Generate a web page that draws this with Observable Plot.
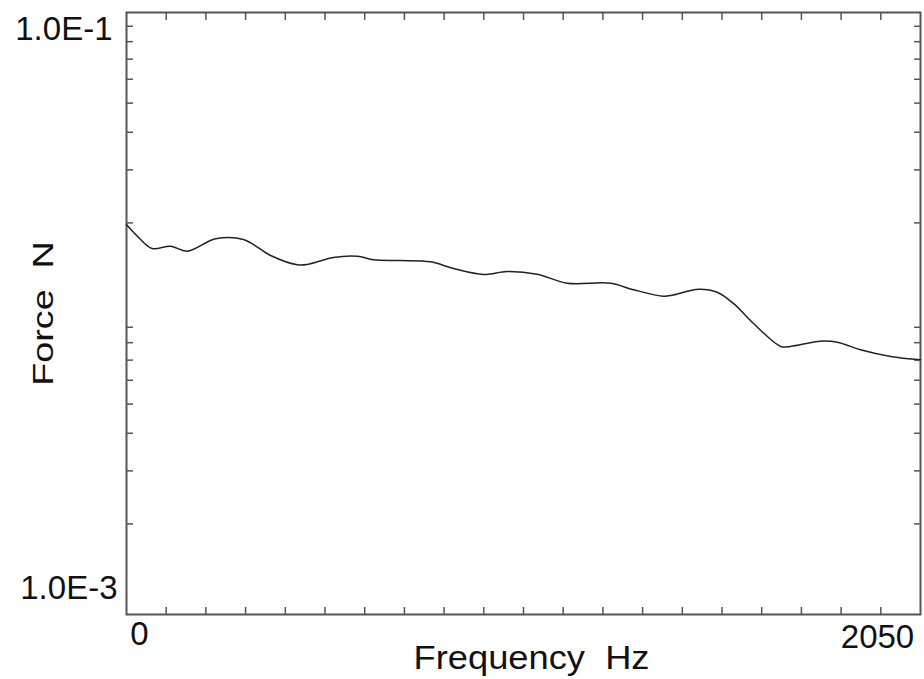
<!DOCTYPE html>
<html><head><meta charset="utf-8">
<script src="https://cdn.jsdelivr.net/npm/d3@7"></script>
<script src="https://cdn.jsdelivr.net/npm/@observablehq/plot@0.6"></script>
<style>body{margin:0;background:#fff} svg{display:block}</style>
</head><body><div id="chart"></div>
<script>
const freq = [0, 31, 66, 114, 157, 230, 302, 372, 441, 467, 534, 596, 638, 707, 785, 844, 922, 983, 1060, 1138, 1250, 1309, 1387, 1412, 1477, 1525, 1567, 1619, 1689, 1714, 1792, 1835, 1895, 1973, 2050];
const force = [0.0197, 0.0179, 0.01644, 0.01673, 0.01610, 0.01771, 0.01762, 0.01558, 0.01451, 0.01455, 0.01535, 0.01550, 0.01508, 0.01500, 0.01485, 0.01411, 0.01348, 0.01379, 0.01351, 0.01261, 0.01261, 0.01199, 0.01141, 0.01153, 0.01204, 0.01177, 0.01080, 0.009265, 0.007773, 0.007773, 0.008091, 0.008030, 0.007579, 0.007197, 0.007019];
const xMinorTicks = d3.range(1, 20).map(i => i * 102.5);
const yMinorTicks = [2,3,4,5,6,7,8,9].flatMap(m => [m * 1e-3, m * 1e-2]);
const xLabels = ["0", "2050"];
const yLabels = ["1.0E-1", "1.0E-3"];
const xTitle = "Frequency  Hz";
const yTitle = "Force  N";

const data = freq.map((f, i) => ({f, v: force[i]}));
const axisColor = "#555";
const fmt = d => d === 0.1 ? yLabels[0] : d === 0.001 ? yLabels[1] : "";

const chart = Plot.plot({
  width: 924,
  height: 679,
  marginLeft: 126,
  marginRight: 4,
  marginTop: 12,
  marginBottom: 65,
  style: {fontFamily: "'Liberation Sans', Arial, Helvetica, sans-serif", fontSize: "33px", color: "#111", background: "#fff"},
  x: {domain: [0, 2050]},
  y: {type: "log", domain: [1e-3, 1e-1]},
  marks: [
    Plot.frame({stroke: axisColor, strokeWidth: 2}),
    // minor ticks pointing inward
    Plot.axisX(xMinorTicks, {anchor: "bottom", tickSize: -7, tickFormat: () => "", label: null, stroke: axisColor, strokeWidth: 1.5}),
    Plot.axisX(xMinorTicks, {anchor: "top", tickSize: -7, tickFormat: () => "", label: null, stroke: axisColor, strokeWidth: 1.5}),
    Plot.axisY(yMinorTicks, {anchor: "left", tickSize: -7, tickFormat: () => "", label: null, stroke: axisColor, strokeWidth: 1.5}),
    Plot.axisY(yMinorTicks, {anchor: "right", tickSize: -7, tickFormat: () => "", label: null, stroke: axisColor, strokeWidth: 1.5}),
    // labels
    Plot.axisX([0], {anchor: "bottom", tickSize: 0, tickPadding: 20, lineAnchor: "middle", dx: 13, tickFormat: () => xLabels[0],
      label: xTitle, labelAnchor: "center", labelOffset: 54, labelArrow: "none"}),
    Plot.axisX([2050], {anchor: "bottom", tickSize: 0, tickPadding: 23, lineAnchor: "middle", dx: -43, tickFormat: () => xLabels[1], label: null}),
    Plot.axisY([0.1], {anchor: "left", tickSize: 0, tickPadding: 14, dy: 17, tickFormat: fmt,
      label: yTitle, labelAnchor: "center", labelOffset: 94, labelArrow: "none"}),
    Plot.axisY([0.001], {anchor: "left", tickSize: 0, tickPadding: 9, dy: -26, tickFormat: fmt, label: null}),
    Plot.line(data, {x: "f", y: "v", curve: "catmull-rom", stroke: "#222", strokeWidth: 1.5})
  ]
});
// widen the axis titles to match the reference's wide lettering
d3.select(chart).selectAll('[aria-label="x-axis label"] text').each(function() {
  const t = d3.select(this); t.attr("transform", (t.attr("transform") || "") + " translate(8,0) scale(1.1,1)");
});
d3.select(chart).selectAll('[aria-label="y-axis label"] text').each(function() {
  const t = d3.select(this); t.attr("font-size", 29).attr("transform", (t.attr("transform") || "") + " scale(1.3,1)");
});
document.getElementById("chart").appendChild(chart);
</script>
</body></html>
